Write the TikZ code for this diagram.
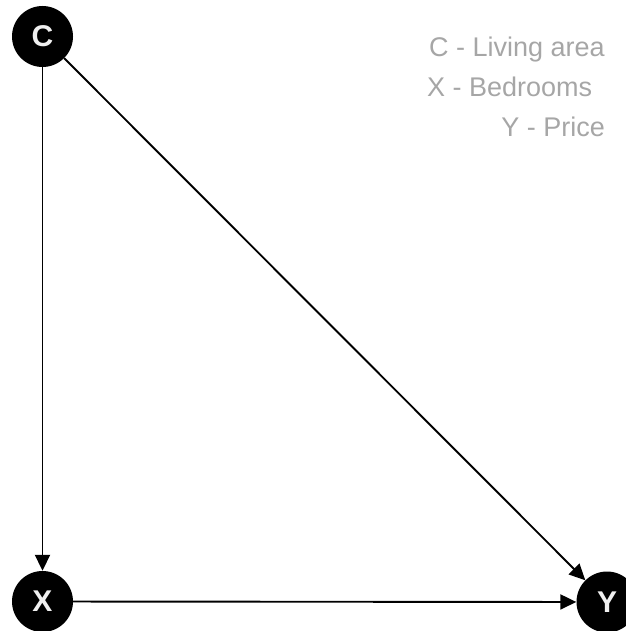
\documentclass[tikz,border=0pt]{standalone}
\usepackage{fontspec}
\setmainfont{Liberation Sans}
\usetikzlibrary{arrows.meta}
\definecolor{legendgray}{HTML}{A6A6A6}
\begin{document}
\begin{tikzpicture}[x=1pt,y=-1pt,
  var/.style={circle,fill=black,minimum size=61pt,inner sep=0pt,text=gray!12,font=\fontsize{30}{30}\selectfont\bfseries},
  edge/.style={draw=black,line width=1.9pt,-{Triangle[length=16pt,width=15pt]}},
  legend/.style={text=legendgray,font=\fontsize{27}{27}\selectfont,inner sep=0pt}]
\useasboundingbox (0,0) rectangle (625,631);
\node[var] (C) at (42.5,36.5) {C};
\node[var] (X) at (42.5,601.5) {X};
\node[var] (Y) at (607,602) {Y};
\draw[edge] (C) -- (X);
\draw[edge] (C) -- (Y);
\draw[edge] (X) -- (Y);
\node[legend,anchor=base east] (l1) at (605,57) {C - Living area};
\node[legend,anchor=base west] (l2) at (427,97) {X - Bedrooms};
\node[legend,anchor=base east] (l3) at (605,137) {Y - Price};
\end{tikzpicture}
\end{document}
